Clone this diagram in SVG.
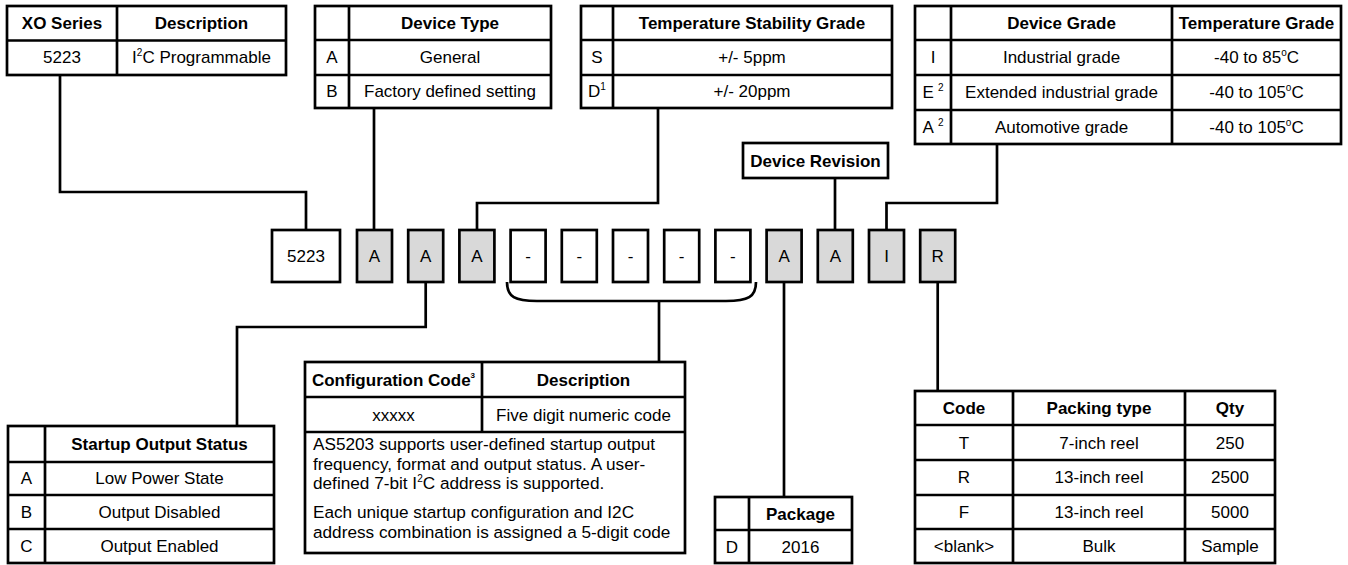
<svg xmlns="http://www.w3.org/2000/svg" width="1348" height="565" viewBox="0 0 1348 565">
<style>
text{font-family:"Liberation Sans",Arial,sans-serif;font-size:17px;fill:#000}
.b{font-weight:bold}
.m{text-anchor:middle}
.p{font-size:17.2px}
.ln{stroke:#000;stroke-width:2.7;fill:none}
.cell{fill:#fff;stroke:#000;stroke-width:2.7}
.g{fill:#d9d9d9;stroke:#000;stroke-width:2.7}
.w{fill:#fff;stroke:#000;stroke-width:2.7}
.sup{font-size:10px}
</style>
<rect width="1348" height="565" fill="#fff"/>

<g id="connectors">
<path class="ln" d="M60,75 V192 H306 V230"/>
<path class="ln" d="M374,108 V230"/>
<path class="ln" d="M658,108 V203 H477 V230"/>
<path class="ln" d="M997,144 V203 H886.5 V230"/>
<path class="ln" d="M835,178 V230"/>
<path class="ln" d="M425.7,282 V327 H237 V426"/>
<path class="ln" d="M507,282 C507,297 515,301 537,301 L726,301 C748,301 756,297 756,282"/>
<path class="ln" d="M659,301 V362"/>
<path class="ln" d="M784,282 V497"/>
<path class="ln" d="M937.7,282 V391"/>
</g>

<g id="xo-series">
<rect class="cell" x="7" y="6" width="279" height="69"/>
<path class="ln" d="M117,6 V75 M7,40.5 H286"/>
<text class="b m" x="62" y="29">XO Series</text>
<text class="b m" x="201.5" y="29">Description</text>
<text class="m" x="62" y="63">5223</text>
<text class="m" x="201.5" y="63">I<tspan class="sup" dy="-7">2</tspan><tspan dy="7">C Programmable</tspan></text>
</g>

<g id="device-type">
<rect class="cell" x="315" y="6" width="236" height="102"/>
<path class="ln" d="M349,6 V108 M315,40 H551 M315,75 H551"/>
<text class="b m" x="450" y="29">Device Type</text>
<text class="m" x="332" y="63">A</text>
<text class="m" x="450" y="63">General</text>
<text class="m" x="332" y="97">B</text>
<text class="m" x="450" y="97" font-size="17.6">Factory defined setting</text>
</g>

<g id="temp-stability">
<rect class="cell" x="581" y="6" width="311" height="102"/>
<path class="ln" d="M613,6 V108 M581,40 H892 M581,75 H892"/>
<text class="b m" x="752" y="29">Temperature Stability Grade</text>
<text class="m" x="597" y="63">S</text>
<text class="m" x="752" y="63">+/- 5ppm</text>
<text class="m" x="597" y="97">D<tspan class="sup" dy="-7">1</tspan></text>
<text class="m" x="752" y="97">+/- 20ppm</text>
</g>

<g id="device-grade">
<rect class="cell" x="915" y="6" width="426" height="138"/>
<path class="ln" d="M951,6 V144 M1172,6 V144 M915,40 H1341 M915,75 H1341 M915,110 H1341"/>
<text class="b m" x="1061.5" y="29">Device Grade</text>
<text class="b m" x="1256.5" y="29">Temperature Grade</text>
<text class="m" x="933" y="63">I</text>
<text class="m" x="1061.5" y="63">Industrial grade</text>
<text class="m" x="1256.5" y="63">-40 to 85<tspan class="sup" dy="-7">o</tspan><tspan dy="7">C</tspan></text>
<text class="m" x="933" y="98">E<tspan class="sup" dx="4" dy="-7">2</tspan></text>
<text class="m" x="1061.5" y="98">Extended industrial grade</text>
<text class="m" x="1256.5" y="98">-40 to 105<tspan class="sup" dy="-7">o</tspan><tspan dy="7">C</tspan></text>
<text class="m" x="933" y="133">A<tspan class="sup" dx="4" dy="-7">2</tspan></text>
<text class="m" x="1061.5" y="133">Automotive grade</text>
<text class="m" x="1256.5" y="133">-40 to 105<tspan class="sup" dy="-7">o</tspan><tspan dy="7">C</tspan></text>
</g>

<g id="device-revision">
<rect class="cell" x="743" y="143" width="145" height="35"/>
<text class="b m" x="815.5" y="166.5">Device Revision</text>
</g>

<g id="part-number">
<rect class="w" x="272" y="230" width="68" height="52"/><text class="m" x="306" y="262">5223</text>
<rect class="g" x="357" y="230" width="35" height="52"/><text class="m" x="374.5" y="262">A</text>
<rect class="g" x="408.2" y="230" width="35" height="52"/><text class="m" x="425.7" y="262">A</text>
<rect class="g" x="459.4" y="230" width="35" height="52"/><text class="m" x="476.9" y="262">A</text>
<rect class="w" x="510.6" y="230" width="35" height="52"/><text class="m" x="528.1" y="262">-</text>
<rect class="w" x="561.8" y="230" width="35" height="52"/><text class="m" x="579.3" y="262">-</text>
<rect class="w" x="613" y="230" width="35" height="52"/><text class="m" x="630.5" y="262">-</text>
<rect class="w" x="664.2" y="230" width="35" height="52"/><text class="m" x="681.7" y="262">-</text>
<rect class="w" x="715.4" y="230" width="35" height="52"/><text class="m" x="732.9" y="262">-</text>
<rect class="g" x="766.6" y="230" width="35" height="52"/><text class="m" x="784.1" y="262">A</text>
<rect class="g" x="817.8" y="230" width="35" height="52"/><text class="m" x="835.3" y="262">A</text>
<rect class="g" x="869" y="230" width="35" height="52"/><text class="m" x="886.5" y="262">I</text>
<rect class="g" x="920.2" y="230" width="35" height="52"/><text class="m" x="937.7" y="262">R</text>
</g>

<g id="startup-output">
<rect class="cell" x="8" y="426" width="266" height="137"/>
<path class="ln" d="M45,426 V563 M8,462 H274 M8,495 H274 M8,529 H274"/>
<text class="b m" x="159.5" y="450">Startup Output Status</text>
<text class="m" x="26.5" y="484">A</text>
<text class="m" x="159.5" y="484">Low Power State</text>
<text class="m" x="26.5" y="518">B</text>
<text class="m" x="159.5" y="518">Output Disabled</text>
<text class="m" x="26.5" y="552">C</text>
<text class="m" x="159.5" y="552">Output Enabled</text>
</g>

<g id="configuration-code">
<rect class="cell" x="305" y="362" width="380" height="191"/>
<path class="ln" d="M482,362 V432 M305,397 H685 M305,432 H685"/>
<text class="b m" x="393.5" y="386">Configuration Code<tspan font-size="8" dy="-8">3</tspan></text>
<text class="b m" x="583.5" y="386">Description</text>
<text class="m" x="393.5" y="421">xxxxx</text>
<text class="m" x="583.5" y="421" font-size="17.6">Five digit numeric code</text>
<text class="p" x="313" y="450">AS5203 supports user-defined startup output</text>
<text class="p" x="313" y="469.5">frequency, format and output status. A user-</text>
<text class="p" x="313" y="489">defined 7-bit I<tspan class="sup" dy="-7">2</tspan><tspan dy="7">C address is supported.</tspan></text>
<text class="p" x="313" y="518">Each unique startup configuration and I2C</text>
<text class="p" x="313" y="538">address combination is assigned a 5-digit code</text>
</g>

<g id="package">
<rect class="cell" x="715" y="497" width="137" height="66"/>
<path class="ln" d="M749,497 V563 M715,530 H852"/>
<text class="b m" x="800.5" y="520">Package</text>
<text class="m" x="732" y="553">D</text>
<text class="m" x="800.5" y="553">2016</text>
</g>

<g id="packing">
<rect class="cell" x="915" y="391" width="360" height="172"/>
<path class="ln" d="M1013,391 V563 M1185,391 V563 M915,425 H1275 M915,460 H1275 M915,495 H1275 M915,529 H1275"/>
<text class="b m" x="964" y="414">Code</text>
<text class="b m" x="1099" y="414">Packing type</text>
<text class="b m" x="1230" y="414">Qty</text>
<text class="m" x="964" y="449">T</text>
<text class="m" x="1099" y="449">7-inch reel</text>
<text class="m" x="1230" y="449">250</text>
<text class="m" x="964" y="483">R</text>
<text class="m" x="1099" y="483">13-inch reel</text>
<text class="m" x="1230" y="483">2500</text>
<text class="m" x="964" y="518">F</text>
<text class="m" x="1099" y="518">13-inch reel</text>
<text class="m" x="1230" y="518">5000</text>
<text class="m" x="964" y="552">&lt;blank&gt;</text>
<text class="m" x="1099" y="552">Bulk</text>
<text class="m" x="1230" y="552">Sample</text>
</g>
</svg>
